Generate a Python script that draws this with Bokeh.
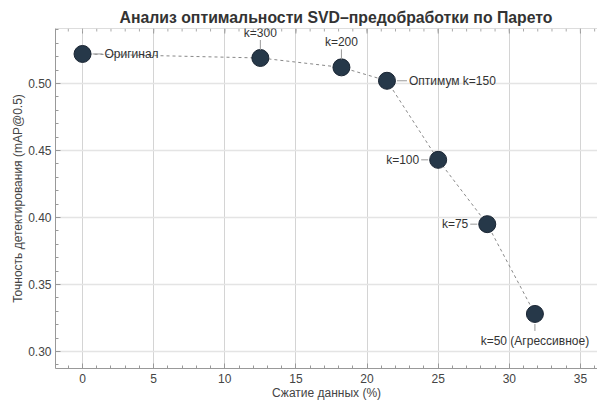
from bokeh.plotting import figure
from bokeh.models import Label, Range1d, ColumnDataSource, FixedTicker, PrintfTickFormatter, Span
from bokeh.embed import file_html
from bokeh.resources import INLINE

# data
compression = [0.0, 12.5, 18.2, 21.4, 25.0, 28.45, 31.8]
accuracy = [0.522, 0.519, 0.512, 0.502, 0.443, 0.395, 0.328]
point_labels = ["Оригинал", "k=300", "k=200", "Оптимум k=150", "k=100", "k=75", "k=50 (Агрессивное)"]
x_ticks = [0, 5, 10, 15, 20, 25, 30, 35]
y_ticks = [0.30, 0.35, 0.40, 0.45, 0.50]

# label placement (style)
placement = ["right", "above", "above", "right", "left", "left", "below"]

FONT = "Liberation Sans"
x0, x1 = -1.9, 36.2
y0, y1 = 0.2873, 0.541
FW, FH = 542, 340

p = figure(frame_width=FW, frame_height=FH, output_backend="svg", toolbar_location=None,
           x_range=Range1d(x0, x1), y_range=Range1d(y0, y1),
           min_border_left=55, min_border_right=0, min_border_top=28, min_border_bottom=30)

p.title.text = "Анализ оптимальности SVD–предобработки по Парето"
p.title.align = "left"
p.title.offset = 64
p.title.text_font = FONT
p.title.text_font_size = "15.8px"
p.title.text_font_style = "bold"
p.title.text_color = "#333333"
p.title.standoff = 5

p.outline_line_color = None
p.background_fill_color = "white"
p.border_fill_color = "white"

xax = p.xaxis[0]
yax = p.yaxis[0]
x_minor = [float(x) for x in range(-1, 37)]
for ax in (xax, yax):
    ax.axis_line_color = "#999999"
    ax.major_tick_line_color = "#999999"
    ax.minor_tick_line_color = "#999999"
    ax.major_tick_in = 5
    ax.major_tick_out = 0
    ax.minor_tick_in = 3
    ax.minor_tick_out = 0
    ax.major_label_text_font = FONT
    ax.major_label_text_font_size = "12px"
    ax.major_label_text_color = "#444444"
    ax.axis_label_text_font = FONT
    ax.axis_label_text_font_size = "12px"
    ax.axis_label_text_font_style = "normal"
    ax.axis_label_text_color = "#444444"

xax.ticker = FixedTicker(ticks=x_ticks, minor_ticks=x_minor)
yax.ticker = FixedTicker(ticks=y_ticks, minor_ticks=[round(0.29 + 0.01 * i, 2) for i in range(26)])
yax.formatter = PrintfTickFormatter(format="%.2f")
xax.axis_label = "Сжатие данных (%)"
yax.axis_label = "Точность детектирования (mAP@0.5)"
xax.major_label_standoff = 5
xax.axis_label_standoff = 0
yax.major_label_standoff = 4
yax.axis_label_standoff = 0

p.xgrid.grid_line_color = "#d4d4d4"
p.ygrid.grid_line_color = "#e4e4e4"
p.ygrid.grid_line_width = 1.5

# top frame line with inward ticks
p.add_layout(Span(location=y1, dimension="width", line_color="#bbbbbb", line_width=1))
py = (y1 - y0) / FH
px = (x1 - x0) / FW
p.segment(x_ticks, [y1] * len(x_ticks), x_ticks, [y1 - 5 * py] * len(x_ticks), line_color="#999999")
p.segment(x_minor, [y1] * len(x_minor), x_minor, [y1 - 3 * py] * len(x_minor), line_color="#aaaaaa")

src = ColumnDataSource(dict(x=compression, y=accuracy))
p.line("x", "y", source=src, line_color="#888888", line_dash="3 3", line_width=1)
p.scatter("x", "y", source=src, size=17, fill_color="#263849", line_color="#1a2533", line_width=1)

seg_x0, seg_y0, seg_x1, seg_y1 = [], [], [], []
for xv, yv, txt, pl in zip(compression, accuracy, point_labels, placement):
    if pl == "right":
        seg_x0.append(xv + 10 * px); seg_x1.append(xv + 20 * px)
        seg_y0.append(yv); seg_y1.append(yv)
        lab = Label(x=xv, y=yv, text=txt, x_offset=22, y_offset=0, text_baseline="middle", text_align="left")
    elif pl == "left":
        seg_x0.append(xv - 10 * px); seg_x1.append(xv - 17 * px)
        seg_y0.append(yv); seg_y1.append(yv)
        lab = Label(x=xv, y=yv, text=txt, x_offset=-19, y_offset=0, text_baseline="middle", text_align="right")
    elif pl == "above":
        seg_x0.append(xv); seg_x1.append(xv)
        seg_y0.append(yv + 8 * py); seg_y1.append(yv + 18 * py)
        lab = Label(x=xv, y=yv, text=txt, x_offset=0, y_offset=25, text_baseline="middle", text_align="center")
    else:
        seg_x0.append(xv); seg_x1.append(xv)
        seg_y0.append(yv - 10 * py); seg_y1.append(yv - 17 * py)
        lab = Label(x=xv, y=yv, text=txt, x_offset=0, y_offset=-27, text_baseline="middle", text_align="center")
    lab.text_font = FONT
    lab.text_font_size = "12px"
    lab.text_color = "#333333"
    p.add_layout(lab)

p.segment(seg_x0, seg_y0, seg_x1, seg_y1, line_color="#999999", line_width=1)

open("out.html", "w").write(file_html(p, INLINE))
